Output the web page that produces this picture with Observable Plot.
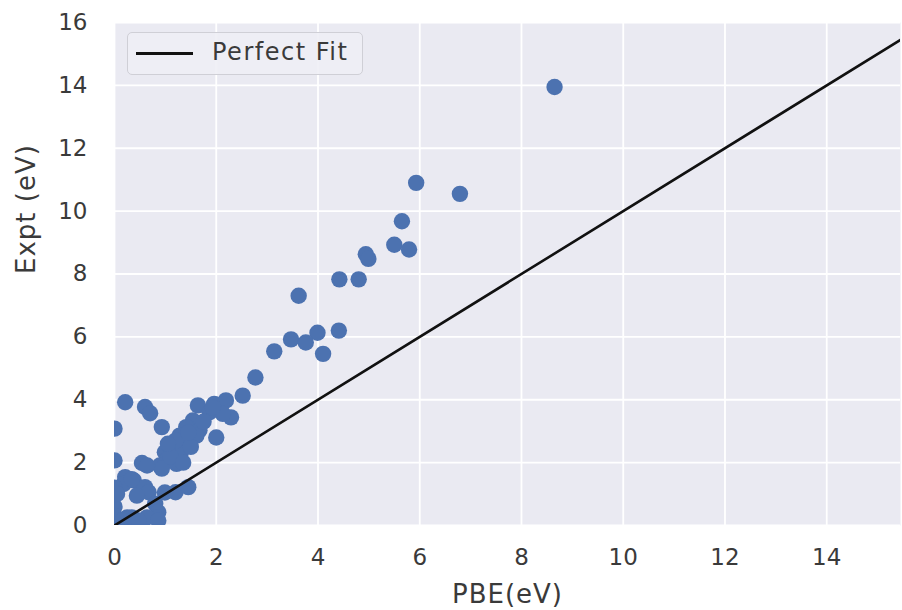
<!DOCTYPE html>
<html>
<head>
<meta charset="utf-8">
<script src="https://cdn.jsdelivr.net/npm/d3@7"></script>
<script src="https://cdn.jsdelivr.net/npm/@observablehq/plot@0.6"></script>
<style>
  html, body { margin: 0; padding: 0; background: white; }
  #wrap { position: relative; width: 902px; height: 610px; font-family: "DejaVu Sans", sans-serif; }
  #wrap g[aria-label="text"] text { letter-spacing: 1px; }
  #legend { position: absolute; left: 127px; top: 32px; width: 236px; height: 43px; box-sizing: border-box;
    background: rgba(238,238,245,0.9); border: 1px solid #cfcfd6; border-radius: 5px; }
  #legend .sw { position: absolute; left: 8px; top: 19px; width: 57px; height: 2.6px; background: #111; }
  #legend .lb { position: absolute; left: 84px; top: 5px; font-size: 24px; letter-spacing: 1.5px; color: #3a3a3a; white-space: nowrap; }
</style>
</head>
<body>
<div id="wrap"></div>
<script>
// PBE band gap (x) vs experimental band gap (y), eV
const pbe  = [8.65, 5.93, 6.79, 5.65, 5.50, 5.79, 4.94, 4.99, 4.42, 4.80, 3.62, 4.41, 3.99, 3.47, 3.76, 4.10, 3.14, 2.77,
  0.21, 0.60, 0.70, 0.93, 0.00, 1.64, 1.96, 2.19, 2.52, 1.87, 1.54, 2.29, 2.00, 1.41, 1.67, 1.28, 1.15, 0.99, 1.41, 1.61,
  1.02, 0.89, 1.22, 0.93, 0.54, 0.64, 0.00, 0.21, 0.38, 0.18, 0.60, 0.67, 0.44, 1.20, 1.45, 0.00, 0.00, 0.80, 0.86,
  0.83, 0.64, 0.25, 0.00, 0.15, 0.34, 0.47, 0.86, 1.30, 1.20, 1.50, 1.10, 1.35, 1.75, 1.45, 1.05, 2.13, 1.93,
  0.05, 0.99, 0.34];
const expt = [13.95, 10.90, 10.55, 9.68, 8.93, 8.78, 8.63, 8.48, 7.83, 7.83, 7.31, 6.20, 6.13, 5.92, 5.82, 5.46, 5.54, 4.71,
  3.92, 3.77, 3.57, 3.13, 3.08, 3.82, 3.87, 3.98, 4.13, 3.60, 3.34, 3.44, 2.80, 3.13, 3.03, 2.86, 2.55, 2.33, 2.65, 2.86,
  2.07, 1.91, 1.96, 1.81, 1.99, 1.91, 2.07, 1.54, 1.43, 1.32, 1.22, 1.06, 0.95, 1.06, 1.22, 1.20, 0.60, 0.69, 0.42,
  0.26, 0.26, 0.26, 0.30, 0.16, 0.26, 0.16, 0.16, 2.30, 2.70, 2.50, 2.20, 2.00, 3.30, 2.95, 2.60, 3.55, 3.76,
  1.00, 1.05, 1.47];
const fitX = [0, 15.45];
const fitY = [0, 15.45];
const xTicks = [0, 2, 4, 6, 8, 10, 12, 14];
const yTicks = [0, 2, 4, 6, 8, 10, 12, 14, 16];
const xLabel = "PBE(eV)";
const yLabel = "Expt (eV)";
const legendLabel = "Perfect Fit";

const points = pbe.map((x, i) => ({x, y: expt[i]}));
const fit = fitX.map((x, i) => ({x, y: fitY[i]}));

const chart = Plot.plot({
  width: 902, height: 610,
  marginLeft: 114, marginRight: 2, marginTop: 22, marginBottom: 85,
  style: {fontFamily: "DejaVu Sans", background: "white", color: "#3a3a3a"},
  x: {domain: [0, 15.45]},
  y: {domain: [0, 16]},
  marks: [
    Plot.frame({fill: "#EAEAF2", stroke: null}),
    Plot.gridX(xTicks, {stroke: "white", strokeOpacity: 1, strokeWidth: 1.8}),
    Plot.gridY(yTicks, {stroke: "white", strokeOpacity: 1, strokeWidth: 1.8}),
    Plot.dot(points, {x: "x", y: "y", r: 8.2, fill: "#4C72B0", stroke: null, clip: true}),
    Plot.line(fit, {x: "x", y: "y", stroke: "#111", strokeWidth: 2.6, clip: true}),
    Plot.axisX(xTicks, {tickSize: 0, tickPadding: 23, fontSize: 23, label: null, fill: "#3a3a3a"}),
    Plot.axisY(yTicks, {tickSize: 0, tickPadding: 27, fontSize: 23, label: null, fill: "#3a3a3a"}),
    Plot.text([xLabel], {frameAnchor: "bottom", dy: 77, fontSize: 26, fill: "#3a3a3a"}),
    Plot.text([yLabel], {frameAnchor: "left", dx: -88, rotate: -90, fontSize: 26, fill: "#3a3a3a"})
  ]
});
const wrap = document.getElementById("wrap");
wrap.appendChild(chart);
const lg = document.createElement("div");
lg.id = "legend";
lg.innerHTML = '<div class="sw"></div><div class="lb"></div>';
lg.querySelector(".lb").textContent = legendLabel;
wrap.appendChild(lg);
</script>
</body>
</html>
